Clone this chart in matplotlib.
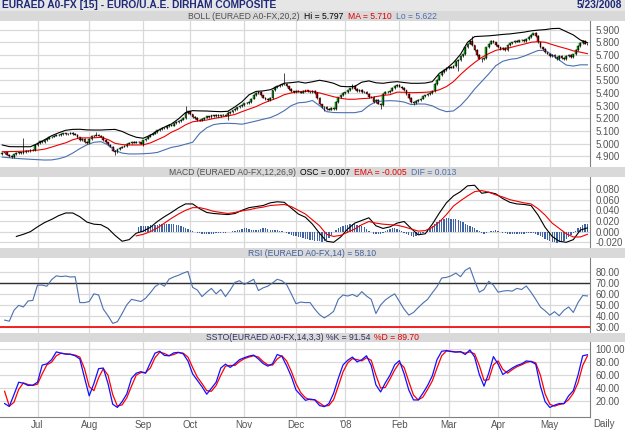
import numpy as np
import pandas as pd
import matplotlib
matplotlib.use("Agg")
import matplotlib.pyplot as plt
from matplotlib.offsetbox import HPacker, TextArea, AnchoredOffsetbox

plt.rcParams["font.family"] = ["Liberation Sans", "DejaVu Sans"]

W, H = 625, 430

# ── data ──────────────────────────────────────────────────────────────────────
DAYS = pd.bdate_range("2007-06-11", "2008-05-23")          # 250 sessions
MONTH_LABELS = ["Jul", "Aug", "Sep", "Oct", "Nov", "Dec", "'08",
                "Feb", "Mar", "Apr", "May"]

CLOSE = [
    4.925, 4.930, 4.912, 4.900, 4.893, 4.915, 4.925, 4.930, 4.922, 4.935,
    4.945, 4.940, 4.950, 4.946, 4.990, 5.005, 5.018, 5.012, 5.030, 5.040,
    5.048, 5.055, 5.062, 5.070, 5.066, 5.075, 5.080, 5.072, 5.078, 5.082,
    5.076, 5.070, 5.048, 5.030, 5.040, 5.012, 5.005, 5.035, 5.058, 5.062,
    5.070, 5.062, 5.055, 5.030, 5.010, 4.992, 4.975, 4.945, 4.935, 4.955,
    4.968, 4.975, 4.982, 5.000, 5.005, 5.012, 5.008, 5.015, 5.010, 5.000,
    5.025, 5.040, 5.055, 5.070, 5.078, 5.090, 5.105, 5.112, 5.125, 5.120,
    5.135, 5.148, 5.142, 5.160, 5.170, 5.178, 5.190, 5.200, 5.240, 5.255,
    5.230, 5.210, 5.200, 5.188, 5.182, 5.195, 5.205, 5.215, 5.210, 5.222,
    5.218, 5.225, 5.215, 5.222, 5.228, 5.220, 5.238, 5.250, 5.262, 5.272,
    5.285, 5.295, 5.305, 5.318, 5.322, 5.330, 5.355, 5.385, 5.400, 5.410,
    5.380, 5.362, 5.350, 5.345, 5.358, 5.420, 5.445, 5.455, 5.462, 5.468,
    5.470, 5.452, 5.430, 5.412, 5.405, 5.418, 5.410, 5.402, 5.415, 5.420,
    5.412, 5.405, 5.418, 5.400, 5.360, 5.310, 5.285, 5.290, 5.275, 5.268,
    5.280, 5.272, 5.330, 5.365, 5.380, 5.400, 5.405, 5.420, 5.435, 5.455,
    5.430, 5.415, 5.422, 5.408, 5.410, 5.395, 5.365, 5.370, 5.330, 5.345,
    5.315, 5.305, 5.395, 5.410, 5.405, 5.418, 5.440, 5.455, 5.462, 5.450,
    5.440, 5.420, 5.390, 5.360, 5.330, 5.322, 5.335, 5.345, 5.355, 5.372,
    5.380, 5.392, 5.398, 5.415, 5.470, 5.505, 5.540, 5.565, 5.580, 5.595,
    5.605, 5.600, 5.612, 5.650, 5.662, 5.690, 5.705, 5.760, 5.790, 5.810,
    5.775, 5.740, 5.700, 5.670, 5.665, 5.672, 5.760, 5.790, 5.810, 5.800,
    5.775, 5.760, 5.745, 5.755, 5.740, 5.780, 5.792, 5.800, 5.810, 5.805,
    5.815, 5.820, 5.812, 5.825, 5.840, 5.860, 5.870, 5.850, 5.800, 5.760,
    5.745, 5.720, 5.710, 5.690, 5.700, 5.680, 5.665, 5.690, 5.675, 5.668,
    5.690, 5.700, 5.685, 5.705, 5.740, 5.770, 5.795, 5.810, 5.790, 5.785,
]
FIRST_OPEN = 4.918
SPIKE_HI_IDX = [9, 40, 78, 96, 120, 149, 186, 200, 227]
SPIKE_HI = [5.044, 5.090, 5.300, 5.260, 5.560, 5.470, 5.530, 5.850, 5.885]
SPIKE_LO_IDX = [48, 60, 96, 137, 161, 175, 194, 204]
SPIKE_LO = [4.910, 4.980, 5.190, 5.255, 5.270, 5.305, 5.570, 5.645]

# Bollinger bands, every 3rd session from the first one
BB_IDX = np.arange(0, 250, 3)
BB_UP = [
    4.989, 4.976, 4.975, 4.975, 4.975, 5.000, 5.030, 5.062, 5.085, 5.105,
    5.112, 5.113, 5.108, 5.107, 5.107, 5.110, 5.112, 5.096, 5.070, 5.050,
    5.042, 5.066, 5.100, 5.130, 5.155, 5.195, 5.245, 5.260, 5.258, 5.257,
    5.254, 5.252, 5.255, 5.290, 5.330, 5.385, 5.412, 5.416, 5.425, 5.449,
    5.477, 5.481, 5.488, 5.478, 5.488, 5.500, 5.490, 5.476, 5.452, 5.449,
    5.452, 5.485, 5.495, 5.480, 5.476, 5.484, 5.489, 5.482, 5.476, 5.476,
    5.478, 5.489, 5.555, 5.590, 5.640, 5.705, 5.800, 5.845, 5.848, 5.851,
    5.856, 5.862, 5.866, 5.873, 5.880, 5.890, 5.896, 5.900, 5.908, 5.910,
    5.884, 5.858, 5.818, 5.797,
]
BB_MA = [
    4.936, 4.937, 4.938, 4.940, 4.943, 4.948, 4.956, 4.972, 4.990, 5.006,
    5.030, 5.045, 5.045, 5.046, 5.049, 5.032, 5.002, 4.992, 4.989, 4.989,
    4.990, 5.005, 5.030, 5.055, 5.090, 5.115, 5.148, 5.172, 5.180, 5.186,
    5.198, 5.208, 5.218, 5.230, 5.252, 5.272, 5.292, 5.318, 5.340, 5.360,
    5.386, 5.400, 5.410, 5.412, 5.412, 5.400, 5.385, 5.370, 5.358, 5.350,
    5.350, 5.355, 5.358, 5.371, 5.380, 5.386, 5.406, 5.405, 5.402, 5.403,
    5.405, 5.410, 5.425, 5.450, 5.489, 5.545, 5.595, 5.640, 5.680, 5.710,
    5.736, 5.748, 5.757, 5.772, 5.785, 5.800, 5.805, 5.800, 5.782, 5.765,
    5.750, 5.732, 5.722, 5.710,
]
BB_LO = [
    4.893, 4.888, 4.883, 4.879, 4.876, 4.873, 4.870, 4.871, 4.880, 4.896,
    4.925, 4.960, 4.990, 5.010, 5.015, 4.990, 4.945, 4.925, 4.918, 4.918,
    4.920, 4.923, 4.930, 4.950, 4.970, 4.980, 4.995, 5.010, 5.080, 5.125,
    5.150, 5.158, 5.160, 5.158, 5.153, 5.165, 5.178, 5.192, 5.205, 5.228,
    5.260, 5.300, 5.322, 5.326, 5.340, 5.300, 5.252, 5.245, 5.244, 5.244,
    5.244, 5.255, 5.300, 5.331, 5.336, 5.339, 5.336, 5.328, 5.308, 5.313,
    5.312, 5.298, 5.270, 5.252, 5.258, 5.300, 5.360, 5.430, 5.490, 5.550,
    5.615, 5.650, 5.665, 5.672, 5.690, 5.713, 5.735, 5.737, 5.700, 5.660,
    5.620, 5.612, 5.622, 5.622,
]

# MACD
OSC_IDX = np.arange(6, 250, 3)
OSC = [
    -0.009, -0.005, 0.000, 0.009, 0.017, 0.023, 0.030, 0.035, 0.035, 0.028,
    0.018, 0.014, 0.013, 0.006, -0.007, -0.018, -0.015, -0.003, 0.001, 0.008,
    0.019, 0.028, 0.036, 0.045, 0.052, 0.052, 0.043, 0.036, 0.034, 0.033,
    0.032, 0.034, 0.040, 0.045, 0.047, 0.049, 0.054, 0.056, 0.055, 0.044,
    0.033, 0.027, 0.014, -0.003, -0.018, -0.020, -0.010, 0.005, 0.016, 0.021,
    0.026, 0.011, 0.006, 0.009, 0.016, 0.019, 0.006, -0.006, -0.004, 0.014,
    0.035, 0.054, 0.067, 0.075, 0.086, 0.087, 0.072, 0.074, 0.071, 0.062,
    0.055, 0.052, 0.051, 0.049, 0.031, 0.008, -0.009, -0.018, -0.020, -0.015,
    0.003, 0.007,
]
EMA_IDX = np.arange(57, 250, 3)
EMA = [
    -0.008, -0.005, 0.000, 0.007, 0.016, 0.025, 0.033, 0.040, 0.045, 0.045,
    0.042, 0.038, 0.036, 0.034, 0.036, 0.039, 0.041, 0.044, 0.046, 0.049,
    0.050, 0.051, 0.047, 0.040, 0.033, 0.022, 0.011, -0.005, -0.009, -0.007,
    -0.001, 0.005, 0.013, 0.019, 0.016, 0.014, 0.013, 0.012, 0.009, 0.005,
    0.001, 0.002, 0.008, 0.018, 0.032, 0.048, 0.058, 0.067, 0.075, 0.077,
    0.074, 0.069, 0.065, 0.060, 0.057, 0.054, 0.052, 0.043, 0.031, 0.016,
    0.006, -0.004, -0.010, -0.010, -0.005,
]
DIF_START = 58
DIF = [
    0.009, 0.010, 0.010, 0.011, 0.011, 0.012, 0.012, 0.013, 0.013, 0.014,
    0.014, 0.015, 0.015, 0.015, 0.014, 0.014, 0.013, 0.012, 0.010, 0.009,
    0.007, 0.005, 0.003, 0.001, -0.001, -0.002, -0.003, -0.004, -0.004, -0.005,
    -0.005, -0.004, -0.004, -0.003, -0.003, -0.003, -0.002, -0.002, -0.001, 0.000,
    0.001, 0.002, 0.003, 0.004, 0.005, 0.006, 0.006, 0.005, 0.004, 0.003,
    0.003, 0.004, 0.005, 0.006, 0.006, 0.005, 0.004, 0.004, 0.003, 0.003,
    0.002, 0.001, 0.000, -0.002, -0.004, -0.006, -0.008, -0.009, -0.010, -0.011,
    -0.012, -0.013, -0.014, -0.015, -0.016, -0.017, -0.018, -0.018, -0.019, -0.018,
    -0.016, -0.012, -0.006, 0.000, 0.004, 0.007, 0.009, 0.011, 0.012, 0.013,
    0.014, 0.015, 0.014, 0.013, 0.012, 0.010, 0.008, 0.005, 0.002, -0.001,
    -0.004, -0.005, -0.005, -0.004, -0.002, 0.001, 0.003, 0.005, 0.006, 0.006,
    0.005, 0.003, 0.001, -0.002, -0.005, -0.007, -0.009, -0.010, -0.009, -0.007,
    -0.005, -0.003, 0.000, 0.003, 0.006, 0.010, 0.014, 0.018, 0.021, 0.023,
    0.024, 0.025, 0.025, 0.024, 0.024, 0.023, 0.022, 0.020, 0.018, 0.015,
    0.013, 0.011, 0.009, 0.007, 0.004, 0.001, -0.002, -0.004, -0.003, -0.001,
    0.001, 0.002, 0.003, 0.002, 0.000, -0.002, -0.003, -0.004, -0.004, -0.005,
    -0.005, -0.005, -0.004, -0.004, -0.004, -0.003, -0.003, -0.002, -0.003, -0.005,
    -0.007, -0.009, -0.011, -0.013, -0.015, -0.017, -0.019, -0.020, -0.021, -0.020,
    -0.019, -0.017, -0.014, -0.011, -0.007, -0.003, 0.002, 0.006, 0.009, 0.012,
    0.014, 0.015,
]

# RSI and slow stochastics, every 2nd session
OSC2_IDX = np.arange(1, 250, 2)
RSI = [
    36, 35, 45, 49.5, 48, 53.5, 54, 68, 68, 67,
    73, 76.5, 75.8, 76.3, 75.4, 75.7, 52, 52, 53, 60,
    59, 46, 40, 33, 34.5, 42, 50, 55, 54, 53,
    56, 61, 66.5, 69.5, 67, 73.5, 75.5, 77, 79, 80.5,
    66, 63.5, 57.5, 61.5, 65, 60, 64, 57.5, 63.5, 70.5,
    72, 68.5, 71, 73.3, 63, 65.5, 67, 70, 73.3, 72,
    68.5, 60, 51, 52.5, 52, 52, 46, 41, 38, 40.6,
    44, 55, 59, 58, 59.5, 57.5, 62, 58, 55, 42,
    49.8, 54.4, 57.5, 60, 53, 46, 40.6, 43, 47.5, 51.5,
    55, 61, 66.6, 74.5, 75.1, 76.5, 79, 75.7, 81.5, 84,
    72, 61.5, 64, 71.5, 68, 61.5, 62.5, 63, 62.5, 65,
    64, 67.2, 61.5, 55, 48, 44.5, 40.5, 43.7, 40, 45,
    48, 43, 52, 58.5, 58.1,
]
PCT_K = [
    16, 11.5, 30, 49, 47.5, 44, 44.5, 49, 75.5, 77.5,
    84, 96, 94, 92.5, 92.3, 90, 85, 56, 28, 47,
    70, 71, 47, 15, 10, 19, 31, 55, 63, 65.4,
    63, 79, 94, 97, 90.5, 90, 94.5, 95.3, 93, 82,
    62, 52, 42, 30.5, 39.6, 49, 71, 77, 72, 77.5,
    84, 87, 89.5, 91, 85, 78, 74, 77.5, 92, 89,
    74.5, 58, 37, 29, 21, 23, 21.6, 13, 11.2, 16,
    32, 55, 75.8, 83, 88, 80.5, 84, 90, 75, 45,
    34, 48, 60, 76, 82.5, 62, 37, 21.6, 21.6, 32,
    44, 59, 84, 97, 98, 96.5, 95.6, 96.4, 92, 99,
    88, 61, 43, 63, 88.7, 77, 61, 66, 71, 75,
    77.5, 82, 81, 77, 43, 19, 10, 13.5, 16, 16,
    28, 36, 60, 90, 91.54,
]
PCT_D = [
    35, 12, 18, 38, 48, 45.5, 44, 46, 62, 76,
    80, 90, 94, 93, 92.3, 91, 88, 70, 42, 36,
    56, 70, 60, 30, 12, 14, 25, 43, 60, 64,
    64, 71, 87, 95.5, 93.5, 90, 92, 95, 94, 88,
    72, 57, 47, 36, 35, 44, 60, 74, 75, 75,
    81, 85.5, 88, 90, 88, 81, 76, 75.5, 85, 90,
    82, 66, 47, 33, 25, 22, 22, 17, 12, 13,
    22, 43, 65, 79, 85.5, 84, 82, 87, 83, 60,
    40, 41, 54, 68, 79, 72, 50, 29, 21.6, 26,
    38, 51, 71, 90, 97.5, 97, 96, 96, 94, 96,
    93, 75, 52, 53, 76, 82, 69, 63, 68.5, 73,
    76, 79.5, 81.5, 79, 60, 31, 15, 12, 14.5, 16,
    22, 32, 48, 75, 89.7,
]

# ── styling ───────────────────────────────────────────────────────────────────
GRID = "#D9D9D9"
LABEL = "#555555"
STRIP = "#D9D9D9"
BLUE = "#4A70B0"
XLIM = (-0.96, 250.1)
HEAD_FS = 6.2
TITLE_FONT = ["Liberation Sans Narrow", "Liberation Sans", "DejaVu Sans"]

close = np.array(CLOSE)
opens = np.r_[FIRST_OPEN, close[:-1]]
idx = np.arange(len(close))
month_idx = [i for i in range(1, len(DAYS)) if DAYS[i].month != DAYS[i - 1].month]

fig = plt.figure(figsize=(W / 100, H / 100), dpi=100)
fig.patch.set_facecolor("white")


def px_axes(x0, y0, x1, y1):
    return fig.add_axes([x0 / W, 1 - y1 / H, (x1 - x0) / W, (y1 - y0) / H])


def strip(y0, y1, parts, color=STRIP):
    hx = px_axes(0, y0, W, y1)
    hx.set_facecolor(color)
    hx.set_xticks([])
    hx.set_yticks([])
    for s in hx.spines.values():
        s.set_visible(False)
    if parts:
        boxes = [TextArea(t, textprops=dict(color=c, fontsize=HEAD_FS)) for t, c in parts]
        pack = HPacker(children=boxes, align="baseline", pad=0, sep=3)
        hx.add_artist(AnchoredOffsetbox(loc="center", child=pack, frameon=False,
                                        pad=0, borderpad=0,
                                        bbox_to_anchor=(0.5, 0.45),
                                        bbox_transform=hx.transAxes))
    return hx


def panel(y0, y1, ylim, ticks, fmt):
    ax = px_axes(0, y0, 590, y1)
    ax.set_xlim(XLIM)
    ax.set_ylim(*ylim)
    ax.set_yticks(ticks)
    ax.set_yticklabels([fmt.format(t) for t in ticks])
    ax.yaxis.tick_right()
    ax.tick_params(axis="y", length=0, pad=4, labelsize=7, labelcolor=LABEL)
    ax.set_xticks(month_idx)
    ax.tick_params(axis="x", length=0, labelbottom=False)
    ax.grid(True, color=GRID, lw=0.9)
    ax.set_axisbelow(True)
    for s in ("top", "left", "bottom"):
        ax.spines[s].set_visible(False)
    ax.spines["right"].set_color("#808080")
    return ax


# ── title bar ─────────────────────────────────────────────────────────────────
strip(0, 11, None, color="#E6E6E6")
fig.text(2 / W, 1 - 5.5 / H, "EURAED A0-FX [15] - EURO/U.A.E. DIRHAM COMPOSITE",
         fontsize=7.4, fontweight="bold", color="#1E2A78", va="center",
         family=TITLE_FONT)
fig.text(622 / W, 1 - 5.5 / H, "5/23/2008", fontsize=7.4, fontweight="bold",
         color="#1E2A78", va="center", ha="right", family=TITLE_FONT)

# ── price + Bollinger ─────────────────────────────────────────────────────────
strip(11, 21, [("BOLL (EURAED A0-FX,20,2)", "#505050"), ("Hi = 5.797", "black"),
               ("MA = 5.710", "#E00000"), ("Lo = 5.622", BLUE)])
ax = panel(21, 167, (4.815, 5.968), np.arange(4.9, 5.95, 0.1), "{:.3f}")
ax.plot(BB_IDX, BB_UP, color="black", lw=0.8)
ax.plot(BB_IDX, BB_MA, color="#F00000", lw=0.8)
ax.plot(BB_IDX, BB_LO, color=BLUE, lw=0.8)

top = np.maximum(opens, close) + 0.006
bot = np.minimum(opens, close) - 0.006
top[SPIKE_HI_IDX] = SPIKE_HI
bot[SPIKE_LO_IDX] = SPIKE_LO
ax.vlines(idx, bot, top, color="black", lw=0.5)
up = close >= opens
ax.bar(idx, close - opens, bottom=opens, width=0.75,
       color=np.where(up, "#00C800", "#F00000"), edgecolor="black", linewidth=0.3)

# ── MACD ─────────────────────────────────────────────────────────────────────
strip(167, 177, [("MACD (EURAED A0-FX,12,26,9)", "#505050"), ("OSC = 0.007", "black"),
                 ("EMA = -0.005", "#E00000"), ("DIF = 0.013", BLUE)])
am = panel(177, 248, (-0.0307, 0.1025), np.arange(-0.02, 0.081, 0.02), "{:.3f}")
dif_idx = np.arange(DIF_START, DIF_START + len(DIF))
am.bar(dif_idx, DIF, width=0.55, color="#3D65A5", linewidth=0)
am.plot(OSC_IDX, OSC, color="black", lw=0.8)
am.plot(EMA_IDX, EMA, color="#F00000", lw=0.8)

# ── RSI ──────────────────────────────────────────────────────────────────────
strip(248, 258, [("RSI (EURAED A0-FX,14) = 58.10", "#3F5F9F")])
ar = panel(258, 333, (24.2, 92.8), np.arange(30, 81, 10), "{:.2f}")
ar.axhline(70, color="#303030", lw=1.0)
ar.axhline(30, color="#F00000", lw=1.2)
ar.plot(OSC2_IDX, RSI, color=BLUE, lw=0.8)

# ── Slow stochastics ─────────────────────────────────────────────────────────
strip(333, 342, [("SSTO(EURAED A0-FX,14,3,3) %K = 91.54", "#303060"),
                 ("%D = 89.70", "#E00000")])
asx = panel(342, 417, (-4.8, 111.3), np.arange(20, 101, 20), "{:.2f}")
asx.plot(OSC2_IDX, PCT_D, color="#FF0000", lw=0.9)
asx.plot(OSC2_IDX, PCT_K, color="#1010FF", lw=0.9)
asx.spines["bottom"].set_visible(True)
asx.spines["bottom"].set_color("#808080")
asx.set_xticklabels(MONTH_LABELS)
asx.tick_params(axis="x", labelbottom=True, labelsize=7, labelcolor=LABEL, pad=2)
fig.text(593 / W, 1 - 424 / H, "Daily", fontsize=7, color=LABEL, va="center")

fig.savefig("out.png", dpi=100, facecolor="white")
